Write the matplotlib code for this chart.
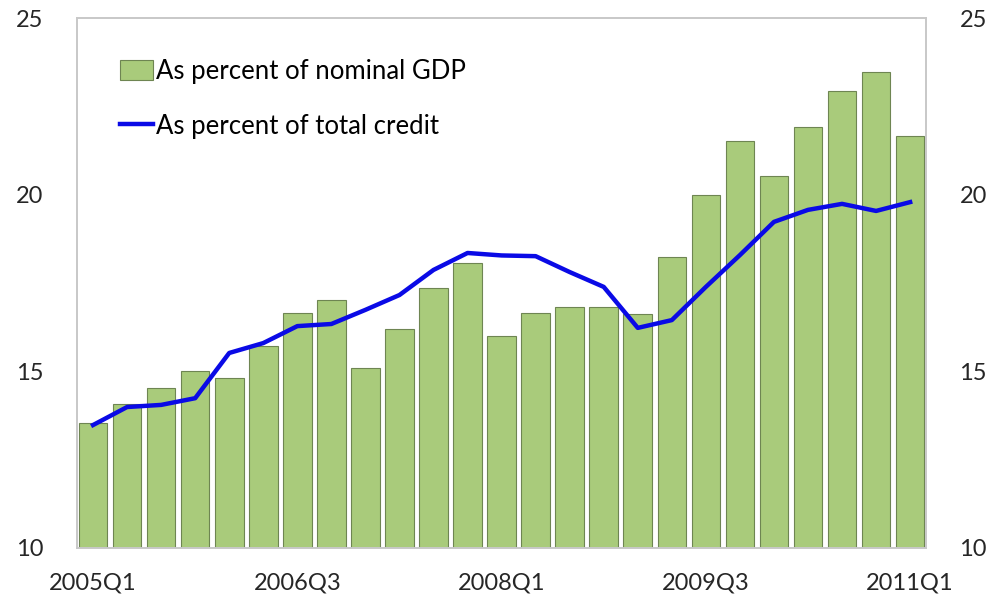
import matplotlib.pyplot as plt
import numpy as np

# quarterly series, 2005Q1 .. 2011Q1
quarters = ['2005Q1', '2005Q2', '2005Q3', '2005Q4',
            '2006Q1', '2006Q2', '2006Q3', '2006Q4',
            '2007Q1', '2007Q2', '2007Q3', '2007Q4',
            '2008Q1', '2008Q2', '2008Q3', '2008Q4',
            '2009Q1', '2009Q2', '2009Q3', '2009Q4',
            '2010Q1', '2010Q2', '2010Q3', '2010Q4',
            '2011Q1']
pct_gdp = [13.54, 14.07, 14.53, 15.01, 14.81, 15.72, 16.65, 17.02, 15.09,
           16.20, 17.36, 18.07, 16.00, 16.65, 16.82, 16.82, 16.62, 18.24,
           19.99, 21.52, 20.53, 21.91, 22.93, 23.47, 21.66]
pct_credit = [13.48, 13.99, 14.05, 14.24, 15.52, 15.80, 16.28, 16.34, 16.74,
              17.16, 17.87, 18.35, 18.28, 18.26, 17.81, 17.39, 16.23, 16.45,
              17.39, 18.29, 19.23, 19.57, 19.74, 19.54, 19.79]
shown_ticks = ['2005Q1', '2006Q3', '2008Q1', '2009Q3', '2011Q1']

plt.rcParams['font.family'] = ['Lato', 'DejaVu Sans']

fig = plt.figure(figsize=(9.98, 6.01), dpi=100)
ax = fig.add_axes([0.0772, 0.0882, 0.8508, 0.8818])

x = np.arange(len(quarters))
bars = ax.bar(x, pct_gdp, width=0.84, color='#A9CB7B', edgecolor='#6E8552',
              linewidth=0.8, label='As percent of nominal GDP', zorder=2)
line, = ax.plot(x, pct_credit, color='#0A0AE6', linewidth=3.2,
                solid_joinstyle='round', label='As percent of total credit',
                zorder=3)

ax.set_xlim(-0.47, len(quarters) - 0.53)
ax.set_ylim(10, 25)
ax.set_yticks([10, 15, 20, 25])
idx = [quarters.index(q) for q in shown_ticks]
ax.set_xticks(idx)
ax.set_xticklabels(shown_ticks)

ax2 = ax.twinx()
ax2.set_ylim(10, 25)
ax2.set_yticks([10, 15, 20, 25])

for a in (ax, ax2):
    for s in a.spines.values():
        s.set_color('#C8C8C8')
        s.set_linewidth(1.2)
    a.tick_params(length=0, labelsize=17, colors='#262626')
ax.tick_params(axis='y', pad=24)
ax.tick_params(axis='x', pad=18)
ax2.tick_params(axis='y', pad=24)

leg = ax.legend([bars, line], [bars.get_label(), line.get_label()],
                loc='upper left', bbox_to_anchor=(0.038, 0.942), frameon=False,
                fontsize=18.5, handlelength=1.3, handleheight=0.8,
                handletextpad=0.1, labelspacing=1.15, borderaxespad=0)

fig.savefig('out.png', dpi=100)
